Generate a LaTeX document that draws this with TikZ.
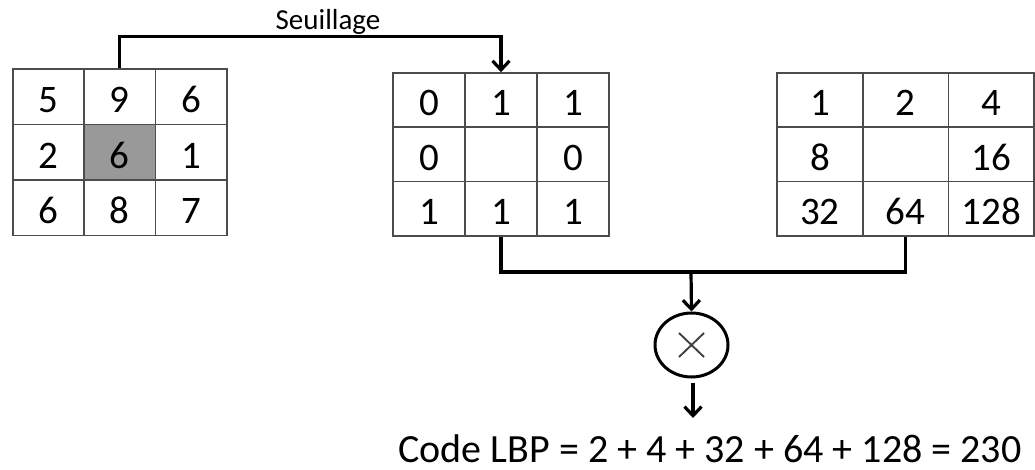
\documentclass[tikz,border=0pt]{standalone}
\usepackage{fontspec}
\setmainfont{Carlito}
\usetikzlibrary{arrows.meta,shapes.geometric}
\begin{document}
\begin{tikzpicture}[x=1pt,y=-1pt,
  cell/.style={draw=black!70, line width=1.7pt, inner sep=0pt, anchor=center,
    font=\fontsize{39}{39}\selectfont, text height=31.6pt, text depth=0pt},
  cellA/.style={cell, minimum width=71.4pt, minimum height=55.5pt},
  cellB/.style={cell, minimum width=72pt, minimum height=54.3pt},
  cellC/.style={cell, minimum width=85.7pt, minimum height=54.3pt},
  center cell/.style={fill=black!40},
  conn/.style={line width=3.2pt, black, line join=miter},
  arr/.style={conn, -{Straight Barb[length=9pt,width=17pt]}},
  label/.style={inner sep=0pt, anchor=base}
]
\useasboundingbox (0,0) rectangle (1035,470);

% grid 1 : image values
\node[cellA] (a11) at (48.4,96.8) {5};
\node[cellA] (a12) at (119.8,96.8) {9};
\node[cellA] (a13) at (191.2,96.8) {6};
\node[cellA] (a21) at (48.4,152.3) {2};
\node[cellA,center cell] (a22) at (119.8,152.3) {6};
\node[cellA] (a23) at (191.2,152.3) {1};
\node[cellA] (a31) at (48.4,207.8) {6};
\node[cellA] (a32) at (119.8,207.8) {8};
\node[cellA] (a33) at (191.2,207.8) {7};

% grid 2 : thresholded
\node[cellB] (b11) at (429,100.2) {0};
\node[cellB] (b12) at (501,100.2) {1};
\node[cellB] (b13) at (573,100.2) {1};
\node[cellB] (b21) at (429,154.5) {0};
\node[cellB] (b22) at (501,154.5) {};
\node[cellB] (b23) at (573,154.5) {0};
\node[cellB] (b31) at (429,208.8) {1};
\node[cellB] (b32) at (501,208.8) {1};
\node[cellB] (b33) at (573,208.8) {1};

% grid 3 : weights
\node[cellC] (c11) at (819.9,100.2) {1};
\node[cellC] (c12) at (905.6,100.2) {2};
\node[cellC] (c13) at (991.3,100.2) {4};
\node[cellC] (c21) at (819.9,154.5) {8};
\node[cellC] (c22) at (905.6,154.5) {};
\node[cellC] (c23) at (991.3,154.5) {16};
\node[cellC] (c31) at (819.9,208.8) {32};
\node[cellC] (c32) at (905.6,208.8) {64};
\node[cellC] (c33) at (991.3,208.8) {128};

% threshold connector
\node[label, font=\fontsize{29}{29}\selectfont] (seuil) at (328,30) {Seuillage};
\coordinate (sy) at (328,36.5);
\draw[arr] (a12.north) |- (sy) -| (b12.north);

% product
\node[ellipse, draw, line width=3pt, minimum width=73pt, minimum height=64pt, inner sep=0pt,
  path picture={\draw[black!75, line width=1.9pt]
    ([shift={(-12.5pt,12pt)}]path picture bounding box.center) -- ([shift={(12.5pt,-12pt)}]path picture bounding box.center)
    ([shift={(-12.5pt,-12pt)}]path picture bounding box.center) -- ([shift={(12.5pt,12pt)}]path picture bounding box.center);}]
  (mul) at (691.5,345) {};

\coordinate (mid) at (691,272);
\draw[conn] (b32.south) |- (mid) -| (c32.south);
\draw[arr] (mid) -- (mul.north);
\coordinate (out) at (693,418);
\draw[arr] ([yshift=-4pt]mul.south -| out) -- (out);

\node[label, font=\fontsize{40}{40}\selectfont] (code) at (710,462)
  {Code LBP = 2 + 4 + 32 + 64 + 128 = 230};
\end{tikzpicture}
\end{document}
